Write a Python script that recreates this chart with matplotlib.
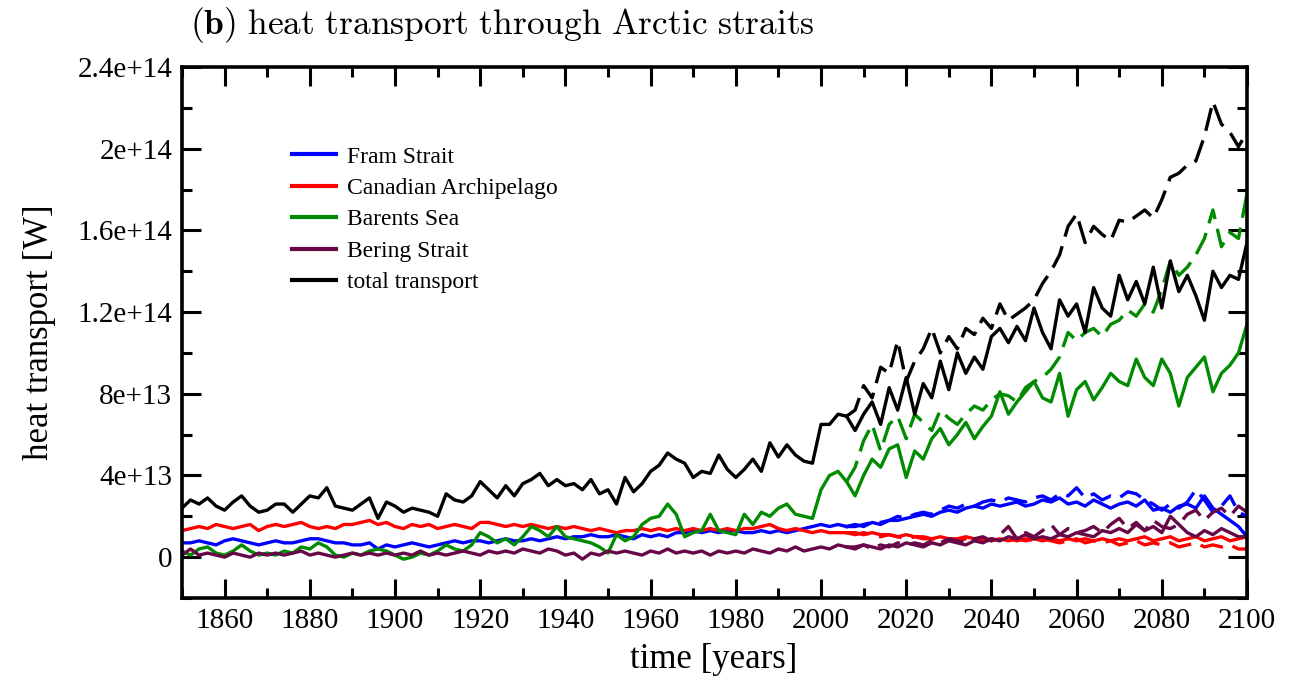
import numpy as np
import matplotlib.pyplot as plt
from matplotlib.ticker import MultipleLocator, FuncFormatter
from matplotlib.lines import Line2D

# годы: исторический прогон и сценарии (шаг 2 года)
hist_years = list(range(1850, 2007, 2))
scen_years = list(range(2006, 2101, 2))

# значения в единицах 1e13 W
fram_hist = [0.7, 0.7, 0.8, 0.7, 0.6, 0.8, 0.9, 0.8, 0.7, 0.6,
             0.7, 0.8, 0.7, 0.7, 0.8, 0.9, 0.9, 0.8, 0.7, 0.7,
             0.6, 0.6, 0.7, 0.4, 0.6, 0.5, 0.6, 0.7, 0.6, 0.5,
             0.6, 0.7, 0.8, 0.7, 0.8, 0.8, 0.7, 0.8, 0.9, 0.8,
             0.8, 0.9, 0.8, 0.9, 1.0, 0.9, 1.0, 1.0, 1.1, 1.0,
             1.0, 1.1, 1.0, 0.9, 1.1, 1.0, 1.1, 1.0, 1.2, 1.2,
             1.3, 1.2, 1.3, 1.2, 1.3, 1.3, 1.2, 1.2, 1.3, 1.2,
             1.3, 1.2, 1.3, 1.4, 1.5, 1.6, 1.5, 1.6, 1.5]
fram_solid = [1.5, 1.6, 1.5, 1.7, 1.6, 1.8, 1.8, 1.9,
              2.0, 2.1, 2.0, 2.2, 2.3, 2.2, 2.4, 2.5, 2.4, 2.6,
              2.5, 2.6, 2.7, 2.5, 2.6, 2.8, 2.7, 2.9, 2.6, 2.7,
              2.5, 2.8, 2.6, 2.4, 2.6, 2.7, 2.5, 2.8, 2.3, 2.4,
              2.2, 2.5, 2.6, 2.4, 3.0, 2.4, 2.1, 1.8, 1.5, 1.0]
fram_dash = [1.5, 1.5, 1.6, 1.7, 1.7, 1.8, 2.0, 1.9,
             2.1, 2.2, 2.1, 2.3, 2.5, 2.4, 2.6, 2.5, 2.7, 2.8,
             2.7, 2.9, 2.8, 2.7, 2.9, 3.0, 2.8, 3.1, 3.0, 3.4,
             2.9, 3.1, 2.8, 3.0, 2.9, 3.2, 3.1, 2.8, 2.6, 2.3,
             2.6, 2.4, 2.7, 3.3, 2.8, 2.2, 2.5, 3.0, 2.2, 2.0]

caa_hist = [1.3, 1.4, 1.5, 1.4, 1.6, 1.5, 1.4, 1.5, 1.6, 1.3,
            1.5, 1.6, 1.5, 1.6, 1.7, 1.5, 1.4, 1.5, 1.4, 1.6,
            1.6, 1.7, 1.8, 1.6, 1.7, 1.5, 1.4, 1.6, 1.5, 1.6,
            1.4, 1.5, 1.6, 1.5, 1.4, 1.7, 1.7, 1.6, 1.5, 1.6,
            1.5, 1.6, 1.5, 1.4, 1.5, 1.4, 1.5, 1.4, 1.3, 1.4,
            1.3, 1.2, 1.3, 1.3, 1.4, 1.3, 1.4, 1.3, 1.4, 1.3,
            1.4, 1.3, 1.4, 1.3, 1.4, 1.3, 1.4, 1.4, 1.5, 1.6,
            1.4, 1.3, 1.4, 1.3, 1.2, 1.3, 1.2, 1.2, 1.2]
caa_solid = [1.2, 1.2, 1.1, 1.2, 1.1, 1.1, 1.0, 1.1,
             1.0, 1.0, 0.9, 1.0, 0.9, 0.9, 1.0, 0.9, 0.9, 0.8,
             0.9, 0.8, 0.9, 0.8, 0.9, 0.8, 0.9, 0.8, 0.9, 0.8,
             0.9, 0.8, 0.9, 0.8, 0.9, 0.8, 0.9, 1.0, 0.8, 0.9,
             1.0, 0.8, 0.9, 1.0, 0.8, 0.9, 1.0, 0.8, 0.9, 1.0]
caa_dash = [1.2, 1.1, 1.2, 1.1, 1.0, 1.1, 1.0, 0.9,
            1.0, 0.9, 0.9, 0.8, 0.9, 0.8, 0.9, 0.8, 0.8, 0.9,
            0.8, 0.9, 0.8, 0.9, 0.8, 0.9, 0.8, 0.7, 0.8, 0.9,
            0.7, 0.8, 0.7, 0.8, 0.6, 0.7, 0.8, 0.6, 0.7, 0.6,
            0.7, 0.5, 0.6, 0.7, 0.5, 0.6, 0.5, 0.6, 0.4, 0.4]

bar_hist = [0.3, 0.1, 0.4, 0.5, 0.2, 0.1, 0.3, 0.6, 0.3, 0.1,
            0.2, 0.1, 0.3, 0.2, 0.5, 0.4, 0.7, 0.5, 0.1, 0.0,
            0.2, 0.1, 0.3, 0.4, 0.3, 0.1, -0.1, 0.0, 0.2, 0.1,
            0.3, 0.6, 0.4, 0.3, 0.6, 1.2, 1.0, 0.7, 0.9, 0.6,
            1.0, 1.5, 1.3, 1.0, 1.5, 1.0, 0.9, 0.8, 0.7, 0.5,
            0.2, 1.1, 0.8, 1.0, 1.6, 1.9, 2.0, 2.6, 2.1, 1.0,
            1.2, 1.3, 2.1, 1.3, 1.2, 1.1, 2.1, 1.6, 2.2, 2.0,
            2.4, 2.6, 2.1, 2.0, 1.9, 3.3, 4.0, 4.2, 3.7]
bar_solid = [3.7, 3.0, 4.0, 4.8, 4.4, 5.3, 5.5, 3.9,
             5.2, 4.8, 5.8, 6.3, 5.5, 6.0, 6.6, 5.8, 6.4, 6.9,
             8.1, 7.0, 7.6, 8.1, 8.6, 7.8, 7.6, 9.0, 6.9, 8.2,
             8.6, 7.7, 8.3, 9.0, 8.6, 8.4, 9.7, 8.8, 8.4, 9.7,
             9.0, 7.4, 8.8, 9.3, 9.8, 8.1, 9.0, 9.4, 10.0, 11.4]
bar_dash = [3.7, 4.4, 5.7, 6.5, 5.2, 6.5, 6.9, 5.8,
            7.0, 6.6, 6.2, 7.2, 6.8, 6.5, 7.0, 7.4, 7.2, 7.7,
            8.0, 7.9, 7.6, 8.3, 8.6, 8.8, 9.2, 9.8, 11.0, 10.6,
            11.0, 11.2, 10.8, 11.4, 11.6, 12.1, 11.8, 12.4, 12.0, 13.1,
            14.5, 13.8, 14.2, 14.8, 15.6, 17.0, 15.2, 15.9, 15.6, 17.8]

ber_hist = [0.1, 0.4, 0.1, 0.2, 0.1, 0.0, 0.2, 0.1, 0.0, 0.2,
            0.1, 0.2, 0.1, 0.2, 0.3, 0.1, 0.2, 0.1, 0.0, 0.1,
            0.2, 0.1, 0.2, 0.1, 0.2, 0.1, 0.2, 0.1, 0.3, 0.1,
            0.2, 0.1, 0.2, 0.3, 0.2, 0.1, 0.3, 0.2, 0.3, 0.2,
            0.4, 0.3, 0.2, 0.4, 0.3, 0.1, 0.2, -0.1, 0.2, 0.1,
            0.3, 0.2, 0.3, 0.2, 0.1, 0.3, 0.2, 0.4, 0.2, 0.3,
            0.2, 0.3, 0.1, 0.3, 0.2, 0.3, 0.2, 0.4, 0.3, 0.2,
            0.4, 0.3, 0.5, 0.3, 0.4, 0.5, 0.4, 0.6, 0.5]
ber_solid = [0.5, 0.4, 0.6, 0.5, 0.4, 0.6, 0.5, 0.7,
             0.6, 0.5, 0.7, 0.6, 0.8, 0.7, 0.6, 0.8, 0.7, 0.9,
             0.8, 1.0, 0.9, 1.1, 0.9, 1.0, 0.9, 1.1, 1.0, 1.2,
             1.1, 1.0, 1.3, 1.2, 1.4, 1.2, 1.6, 1.3, 1.5, 1.2,
             2.0, 1.6, 1.2, 1.0, 1.3, 1.1, 1.4, 1.2, 1.0, 1.0]
ber_dash = [0.5, 0.5, 0.6, 0.4, 0.6, 0.5, 0.7, 0.6,
            0.7, 0.6, 0.8, 0.7, 0.9, 0.8, 0.7, 0.9, 1.0, 0.8,
            1.1, 1.5, 0.9, 1.2, 1.0, 1.3, 1.6, 1.1, 1.4, 1.2,
            1.3, 1.5, 1.2, 1.6, 1.9, 1.4, 1.7, 1.3, 1.8, 1.5,
            1.4, 1.6, 2.1, 2.3, 1.8, 2.2, 2.4, 2.0, 2.5, 2.2]

tot_hist = [2.4, 2.8, 2.6, 2.9, 2.5, 2.3, 2.7, 3.0, 2.5, 2.2,
            2.3, 2.6, 2.6, 2.2, 2.6, 3.0, 2.9, 3.4, 2.5, 2.4,
            2.3, 2.6, 2.9, 1.9, 2.7, 2.5, 2.2, 2.4, 2.3, 2.2,
            2.0, 3.1, 2.8, 2.7, 3.0, 3.7, 3.3, 2.9, 3.5, 3.0,
            3.6, 3.8, 4.1, 3.5, 3.8, 3.5, 3.6, 3.3, 3.8, 3.1,
            3.3, 2.6, 3.9, 3.2, 3.6, 4.2, 4.5, 5.1, 4.8, 4.6,
            3.9, 4.2, 4.1, 5.0, 4.3, 3.9, 4.3, 4.8, 4.2, 5.6,
            4.9, 5.5, 5.0, 4.7, 4.6, 6.5, 6.5, 7.0, 6.9]
tot_solid = [6.9, 6.2, 7.0, 7.6, 6.5, 8.3, 7.2, 8.8,
             7.0, 8.5, 7.8, 9.6, 8.2, 10.0, 9.0, 9.8, 9.2, 10.8,
             11.2, 10.5, 11.3, 10.6, 12.2, 11.0, 10.2, 12.6, 11.8, 12.4,
             11.0, 13.2, 12.2, 11.8, 13.8, 12.6, 13.5, 12.4, 14.2, 12.2,
             14.5, 13.0, 13.8, 12.8, 11.6, 14.0, 13.2, 13.8, 13.6, 15.4]
tot_dash = [6.9, 7.2, 8.4, 7.8, 9.3, 9.0, 10.6, 8.6,
            9.6, 10.2, 11.2, 10.0, 10.8, 10.2, 11.2, 10.9, 11.7, 11.2,
            12.4, 11.6, 11.9, 12.2, 12.6, 13.4, 14.0, 14.8, 16.2, 16.8,
            15.4, 16.2, 15.8, 15.5, 16.5, 16.4, 16.7, 17.0, 16.6, 17.5,
            18.6, 18.8, 19.2, 19.4, 20.6, 22.3, 21.2, 20.8, 20.1, 20.8]

names = ['Fram Strait', 'Canadian Archipelago', 'Barents Sea',
         'Bering Strait', 'total transport']
colors = ['#0000ff', '#ff0000', '#008b00', '#670748', '#000000']
series = [(fram_hist, fram_solid, fram_dash),
          (caa_hist, caa_solid, caa_dash),
          (bar_hist, bar_solid, bar_dash),
          (ber_hist, ber_solid, ber_dash),
          (tot_hist, tot_solid, tot_dash)]

plt.rcParams['font.family'] = ['Liberation Serif', 'DejaVu Serif']
plt.rcParams['mathtext.fontset'] = 'cm'

fig = plt.figure(figsize=(12.93, 6.8), dpi=100)
ax = fig.add_axes([182 / 1293, 1 - 598 / 680, 1065 / 1293, 531 / 680])

scale = 1e13
lw = 2.4
for (h, s, d), c in zip(series, colors):
    ax.plot(hist_years, np.array(h) * scale, color=c, lw=lw)
    ax.plot(scen_years, np.array(s) * scale, color=c, lw=lw)
    ax.plot(scen_years, np.array(d) * scale, color=c, lw=lw,
            dashes=(7, 3))

ax.set_xlim(1850, 2100)
ax.set_ylim(-2e13, 2.4e14)
ax.xaxis.set_major_locator(MultipleLocator(20))
ax.xaxis.set_minor_locator(MultipleLocator(10))
ax.yaxis.set_major_locator(MultipleLocator(4e13))
ax.yaxis.set_minor_locator(MultipleLocator(2e13))
ax.yaxis.set_major_formatter(FuncFormatter(lambda v, p: '%g' % v))
ax.xaxis.set_major_formatter(FuncFormatter(lambda v, p: '%d' % v))

ax.tick_params(which='both', direction='in', top=True, right=True,
               width=2.2, labelsize=21)
ax.tick_params(which='major', length=14, pad=7)
ax.tick_params(which='minor', length=7)
for sp in ax.spines.values():
    sp.set_linewidth(2.6)

fig.text(40 / 1293, 1 - 332 / 680, 'heat transport [W]', rotation=90,
         ha='center', va='center', fontsize=25)
fig.text(714 / 1293, 1 - 660 / 680, 'time [years]',
         ha='center', va='center', fontsize=25)
fig.text(190 / 1293, 1 - 34 / 680,
         r'$\mathbf{(b)}\ \mathrm{heat\ transport\ through\ Arctic\ straits}$',
         ha='left', va='baseline', fontsize=25.5)

handles = [Line2D([], [], color=c, lw=3) for c in colors]
ax.legend(handles, names, loc='upper left', frameon=False, fontsize=17,
          bbox_to_anchor=(292 / 1293, 1 - 146 / 680),
          bbox_transform=fig.transFigure, borderpad=0, borderaxespad=0,
          handlelength=1.85, handletextpad=0.5, labelspacing=0.42)

fig.savefig('out.png', dpi=100)
